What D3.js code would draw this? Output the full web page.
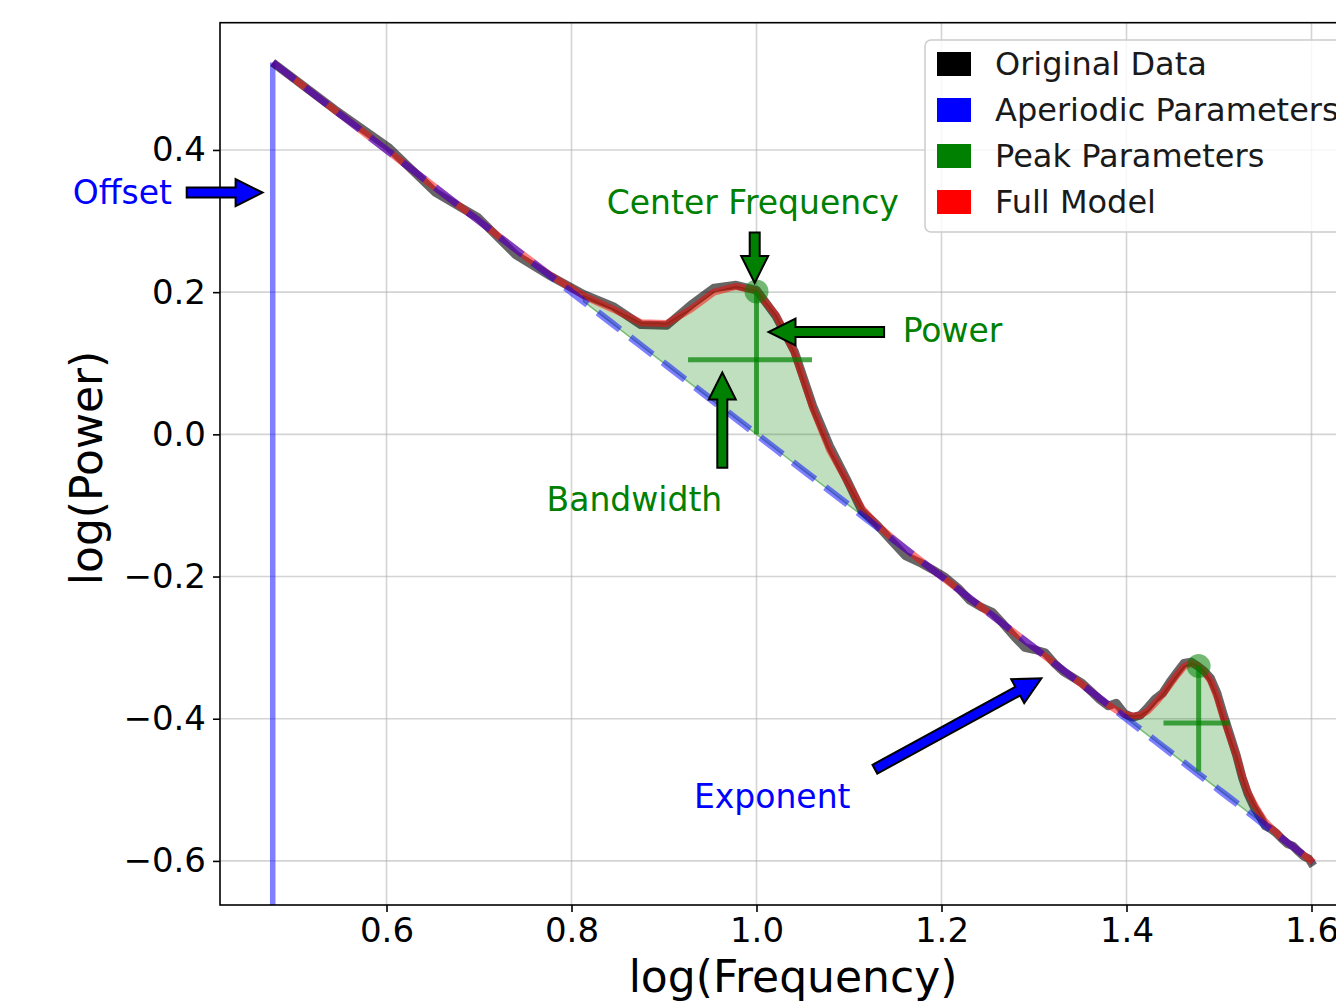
<!DOCTYPE html>
<html>
<head>
<meta charset="utf-8">
<script src="https://cdn.jsdelivr.net/npm/d3@7"></script>
<style>
body { margin: 0; background: #fff; }
svg { display: block; font-family: "DejaVu Sans", sans-serif; }
</style>
</head>
<body>
<script>
// log10 of the frequencies, 3 .. 40 Hz every 0.5 Hz
var logFreqs = [0.477, 0.544, 0.602, 0.653, 0.699, 0.740, 0.778, 0.813, 0.845, 0.875,
  0.903, 0.929, 0.954, 0.978, 1.000, 1.021, 1.041, 1.061, 1.079, 1.097,
  1.114, 1.130, 1.146, 1.161, 1.176, 1.190, 1.204, 1.218, 1.230, 1.243,
  1.255, 1.267, 1.279, 1.290, 1.301, 1.312, 1.322, 1.332, 1.342, 1.352,
  1.362, 1.371, 1.380, 1.389, 1.398, 1.407, 1.415, 1.423, 1.431, 1.439,
  1.447, 1.455, 1.462, 1.470, 1.477, 1.484, 1.491, 1.498, 1.505, 1.512,
  1.519, 1.525, 1.531, 1.538, 1.544, 1.550, 1.556, 1.562, 1.568, 1.574,
  1.580, 1.586, 1.591, 1.597, 1.602];

// measured power spectrum
var originalData = [0.523, 0.457, 0.404, 0.340, 0.305, 0.252, 0.222, 0.197, 0.180, 0.154,
  0.153, 0.182, 0.206, 0.210, 0.203, 0.166, 0.117, 0.040, -0.016, -0.062,
  -0.108, -0.127, -0.150, -0.171, -0.180, -0.190, -0.201, -0.216, -0.233, -0.243,
  -0.250, -0.267, -0.285, -0.300, -0.303, -0.307, -0.322, -0.334, -0.342, -0.350,
  -0.362, -0.373, -0.382, -0.378, -0.393, -0.398, -0.395, -0.384, -0.372, -0.364,
  -0.348, -0.334, -0.322, -0.320, -0.326, -0.333, -0.343, -0.364, -0.395, -0.423,
  -0.452, -0.482, -0.505, -0.525, -0.537, -0.551, -0.555, -0.561, -0.569, -0.576,
  -0.579, -0.587, -0.593, -0.597, -0.607];

// aperiodic fit
var aperiodicFit = [0.523, 0.456, 0.398, 0.347, 0.301, 0.260, 0.222, 0.187, 0.155, 0.125,
  0.097, 0.071, 0.046, 0.022, 0.000, -0.021, -0.041, -0.061, -0.079, -0.097,
  -0.114, -0.130, -0.146, -0.161, -0.176, -0.190, -0.204, -0.218, -0.230, -0.243,
  -0.255, -0.267, -0.279, -0.290, -0.301, -0.312, -0.322, -0.332, -0.342, -0.352,
  -0.362, -0.371, -0.380, -0.389, -0.398, -0.407, -0.415, -0.423, -0.431, -0.439,
  -0.447, -0.455, -0.462, -0.470, -0.477, -0.484, -0.491, -0.498, -0.505, -0.512,
  -0.519, -0.525, -0.531, -0.538, -0.544, -0.550, -0.556, -0.562, -0.568, -0.574,
  -0.580, -0.586, -0.591, -0.597, -0.602];

// full model fit
var fullModel = [0.523, 0.456, 0.398, 0.347, 0.301, 0.260, 0.223, 0.195, 0.176, 0.157,
  0.156, 0.176, 0.200, 0.208, 0.202, 0.168, 0.115, 0.036, -0.022, -0.064,
  -0.104, -0.127, -0.145, -0.161, -0.176, -0.190, -0.204, -0.218, -0.230, -0.243,
  -0.255, -0.267, -0.279, -0.290, -0.301, -0.312, -0.322, -0.332, -0.342, -0.352,
  -0.362, -0.371, -0.380, -0.388, -0.394, -0.396, -0.395, -0.389, -0.378, -0.366,
  -0.352, -0.338, -0.327, -0.322, -0.325, -0.333, -0.347, -0.370, -0.400, -0.427,
  -0.452, -0.480, -0.503, -0.520, -0.533, -0.545, -0.553, -0.560, -0.568, -0.574,
  -0.580, -0.586, -0.591, -0.597, -0.602];

// peak parameters
var peakCF = [1.000, 1.478];
var peakTop = [0.201, -0.326];
var peakBase = [0.000, -0.474];
var peakHalf = [0.105, -0.406];
var peakBwLo = [0.926, 1.440];
var peakBwHi = [1.060, 1.512];
var peakFill = [[7, 21], [44, 65]]; // index ranges of the shaded peaks

var legendLabels = ["Original Data", "Aperiodic Parameters", "Peak Parameters", "Full Model"];
var legendColors = ["black", "blue", "green", "red"];

var xTicks = [0.6, 0.8, 1.0, 1.2, 1.4, 1.6];
var yTicks = [-0.6, -0.4, -0.2, 0.0, 0.2, 0.4];

// annotation texts and arrows (data coords)
var notes = [
  {text: "Offset", color: "blue", fill: "blue", tx: 0.368, ty: 0.340, anchor: "end", from: [0.384, 0.340], to: [0.466, 0.340]},
  {text: "Center Frequency", color: "green", fill: "green", tx: 0.996, ty: 0.326, anchor: "middle", from: [0.998, 0.284], to: [0.998, 0.213]},
  {text: "Power", color: "green", fill: "green", tx: 1.158, ty: 0.146, anchor: "start", from: [1.138, 0.144], to: [1.013, 0.144]},
  {text: "Bandwidth", color: "green", fill: "green", tx: 0.868, ty: -0.092, anchor: "middle", from: [0.963, -0.047], to: [0.963, 0.087]},
  {text: "Exponent", color: "blue", fill: "blue", tx: 1.017, ty: -0.510, anchor: "middle", from: [1.128, -0.471], to: [1.308, -0.343]}
];

var W = 1336, H = 1006;
var svg = d3.select("body").append("svg")
  .attr("width", W)
  .attr("height", H);

var x = d3.scaleLinear().domain([0.42, 1.66]).range([220, 1367]);
var y = d3.scaleLinear().domain([-0.662, 0.579]).range([905, 22.7]);

svg.append("clipPath").attr("id", "plotclip")
  .append("rect").attr("x", 220).attr("y", 22.7).attr("width", 1147).attr("height", 905 - 22.7);

// grid
svg.append("g").selectAll("line").data(xTicks).enter().append("line")
  .attr("x1", function(d) { return x(d); }).attr("x2", function(d) { return x(d); })
  .attr("y1", y.range()[1]).attr("y2", y.range()[0])
  .attr("stroke", "#b0b0b0").attr("stroke-opacity", 0.55).attr("stroke-width", 1.6);
svg.append("g").selectAll("line").data(yTicks).enter().append("line")
  .attr("y1", function(d) { return y(d); }).attr("y2", function(d) { return y(d); })
  .attr("x1", x.range()[0]).attr("x2", x.range()[1])
  .attr("stroke", "#b0b0b0").attr("stroke-opacity", 0.55).attr("stroke-width", 1.6);

var plot = svg.append("g").attr("clip-path", "url(#plotclip)");
var idx = d3.range(logFreqs.length);

var line = function(vals) {
  return d3.line()
    .x(function(i) { return x(logFreqs[i]); })
    .y(function(i) { return y(vals[i]); })(idx);
};

// shaded peaks
peakFill.forEach(function(r) {
  var ii = d3.range(r[0], r[1] + 1);
  plot.append("path")
    .attr("d", d3.area()
      .x(function(i) { return x(logFreqs[i]); })
      .y0(function(i) { return y(aperiodicFit[i]); })
      .y1(function(i) { return y(fullModel[i]); })(ii))
    .attr("fill", "green").attr("fill-opacity", 0.25)
    .attr("stroke", "green").attr("stroke-opacity", 0.45).attr("stroke-width", 1.5);
});

// offset line
plot.append("line")
  .attr("x1", x(logFreqs[0])).attr("x2", x(logFreqs[0]))
  .attr("y1", y(aperiodicFit[0])).attr("y2", y(-0.662))
  .attr("stroke", "blue").attr("stroke-opacity", 0.5).attr("stroke-width", 5.5);

plot.append("path").attr("d", line(originalData))
  .attr("fill", "none").attr("stroke", "black").attr("stroke-opacity", 0.6)
  .attr("stroke-width", 8.5).attr("stroke-linejoin", "round");
plot.append("path").attr("d", line(fullModel))
  .attr("fill", "none").attr("stroke", "red").attr("stroke-opacity", 0.5)
  .attr("stroke-width", 7).attr("stroke-linejoin", "round");
plot.append("path").attr("d", line(aperiodicFit))
  .attr("fill", "none").attr("stroke", "blue").attr("stroke-opacity", 0.5)
  .attr("stroke-width", 7).attr("stroke-dasharray", "28,13");

// peak markers
peakCF.forEach(function(cf, k) {
  plot.append("line")
    .attr("x1", x(cf)).attr("x2", x(cf))
    .attr("y1", y(peakTop[k])).attr("y2", y(peakBase[k]))
    .attr("stroke", "green").attr("stroke-opacity", 0.7).attr("stroke-width", 5);
  plot.append("line")
    .attr("x1", x(peakBwLo[k])).attr("x2", x(peakBwHi[k]))
    .attr("y1", y(peakHalf[k])).attr("y2", y(peakHalf[k]))
    .attr("stroke", "green").attr("stroke-opacity", 0.7).attr("stroke-width", 5);
  plot.append("circle")
    .attr("cx", x(cf)).attr("cy", y(peakTop[k])).attr("r", 12)
    .attr("fill", "green").attr("fill-opacity", 0.55);
});

// frame
svg.append("rect")
  .attr("x", 220).attr("y", 22.7).attr("width", 1147).attr("height", 905 - 22.7)
  .attr("fill", "none").attr("stroke", "black").attr("stroke-width", 1.6);

// axes
var fmt = d3.format(".1f");
var gx = svg.append("g").attr("transform", "translate(0,905)")
  .call(d3.axisBottom(x).tickValues(xTicks).tickSize(7).tickPadding(6).tickFormat(fmt));
var gy = svg.append("g").attr("transform", "translate(220,0)")
  .call(d3.axisLeft(y).tickValues(yTicks).tickSize(7).tickPadding(7).tickFormat(fmt));
[gx, gy].forEach(function(g) {
  g.select(".domain").remove();
  g.selectAll(".tick line").attr("stroke", "black").attr("stroke-width", 1.6);
  g.selectAll(".tick text").attr("font-size", 34).attr("fill", "black")
    .attr("font-family", "DejaVu Sans, sans-serif");
});

svg.append("text").attr("x", 793).attr("y", 992)
  .attr("text-anchor", "middle").attr("font-size", 44).text("log(Frequency)");
svg.append("text").attr("transform", "translate(102,468) rotate(-90)")
  .attr("text-anchor", "middle").attr("font-size", 44).text("log(Power)");

// annotations
function arrowPath(x1, y1, x2, y2) {
  var dx = x2 - x1, dy = y2 - y1, L = Math.hypot(dx, dy);
  var ux = dx / L, uy = dy / L, px = -uy, py = ux;
  var hw = 5, HW = 13.5, HL = 27;
  var bx = x2 - ux * HL, by = y2 - uy * HL;
  var pts = [[x1 + px * hw, y1 + py * hw], [bx + px * hw, by + py * hw], [bx + px * HW, by + py * HW],
    [x2, y2], [bx - px * HW, by - py * HW], [bx - px * hw, by - py * hw], [x1 - px * hw, y1 - py * hw]];
  return "M" + pts.map(function(p) { return p[0].toFixed(1) + "," + p[1].toFixed(1); }).join("L") + "Z";
}

var ann = svg.append("g");
notes.forEach(function(n) {
  ann.append("path")
    .attr("d", arrowPath(x(n.from[0]), y(n.from[1]), x(n.to[0]), y(n.to[1])))
    .attr("fill", n.fill).attr("stroke", "black").attr("stroke-width", 2).attr("stroke-linejoin", "miter");
  ann.append("text")
    .attr("x", x(n.tx)).attr("y", y(n.ty))
    .attr("text-anchor", n.anchor).attr("dominant-baseline", "central")
    .attr("font-size", 33).attr("fill", n.color).text(n.text);
});

// legend
var leg = svg.append("g");
leg.append("rect").attr("x", 925).attr("y", 40).attr("width", 500).attr("height", 192).attr("rx", 6)
  .attr("fill", "white").attr("fill-opacity", 0.8).attr("stroke", "#cccccc").attr("stroke-width", 1.5);
legendLabels.forEach(function(lab, i) {
  var cy = 64 + 46 * i;
  leg.append("rect").attr("x", 937).attr("y", cy - 12).attr("width", 34).attr("height", 24)
    .attr("fill", legendColors[i]);
  leg.append("text").attr("x", 995).attr("y", cy).attr("dominant-baseline", "central")
    .attr("font-size", 32).attr("fill", "#1a1a1a").text(lab);
});
</script>
</body>
</html>
